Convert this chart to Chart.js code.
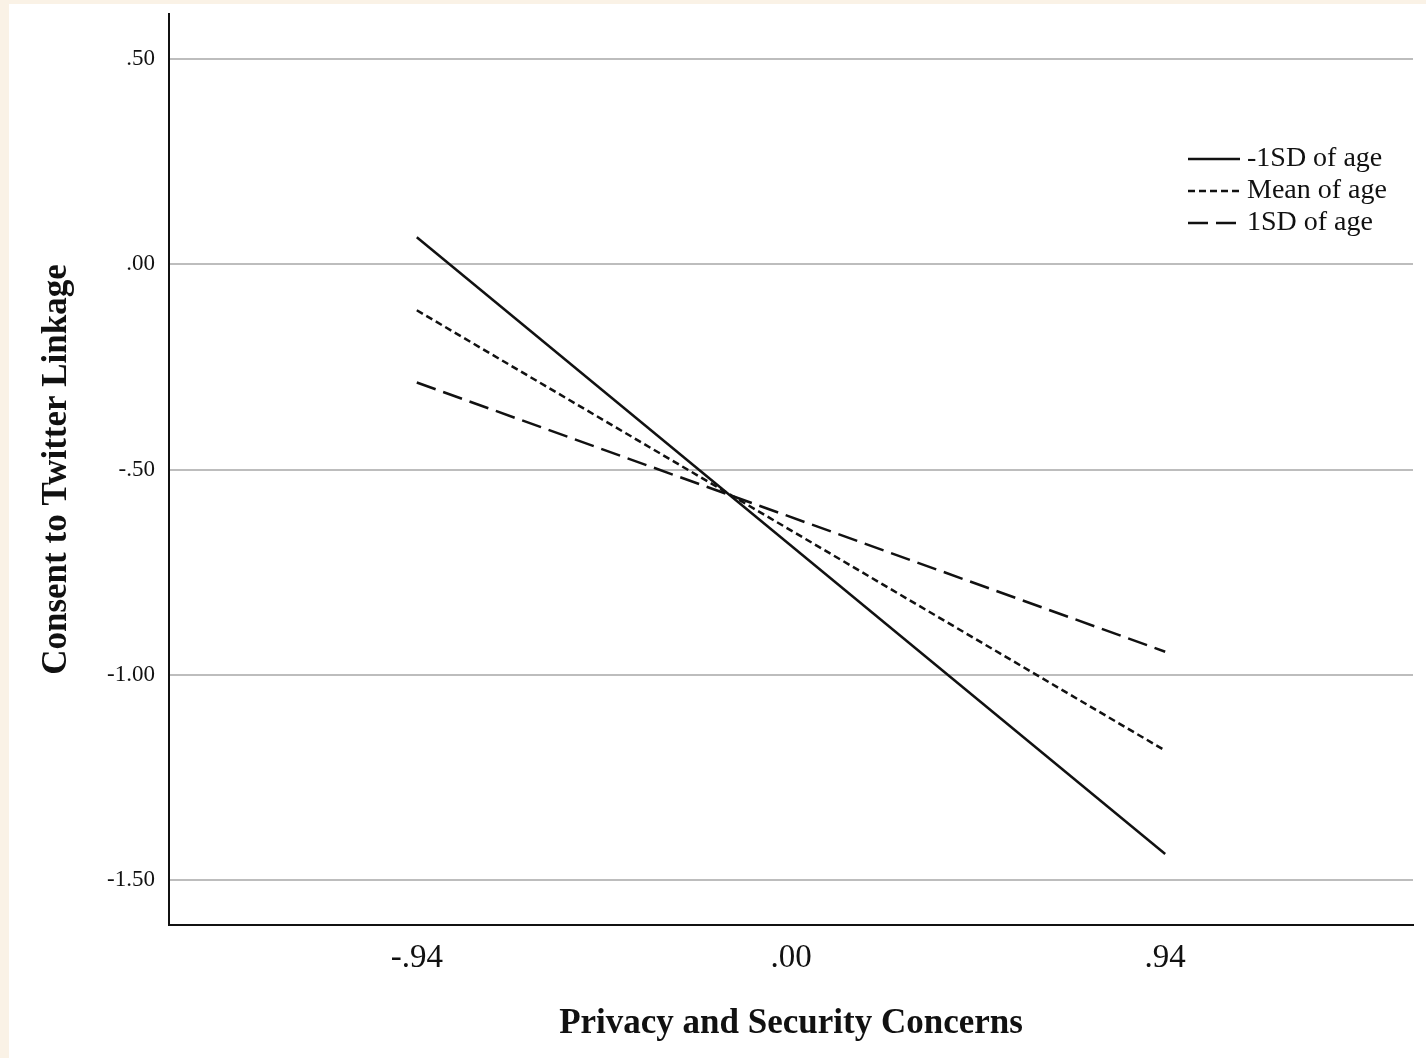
<!DOCTYPE html>
<html>
<head>
<meta charset="utf-8">
<script src="https://cdn.jsdelivr.net/npm/chart.js@4/dist/chart.umd.min.js"></script>
<style>
  html, body { margin: 0; padding: 0; background: #faf2e6; }
  #wrap { position: absolute; left: 9px; top: 4px; width: 1417px; height: 1054px; background: #ffffff; }
</style>
</head>
<body>
<div id="wrap"><canvas id="chart" width="1417" height="1054"></canvas></div>
<script>
// 조절변수(연령) 수준별 단순 기울기 데이터
const xTicks = [-0.94, 0, 0.94];
const yTicks = [-1.5, -1.0, -0.5, 0, 0.5];
const seriesLabels = ["-1SD of age", "Mean of age", "1SD of age"];
const lowAge = [0.066, -1.437];
const meanAge = [-0.112, -1.185];
const highAge = [-0.288, -0.944];

const SERIF = "'Liberation Serif', 'Times New Roman', serif";

// .50, -1.00 형식 (앞자리 0 제거)
function spssFormat(v) {
  let s = Math.abs(v).toFixed(2).replace(/^0/, "");
  return (v < 0 ? "-" : "") + s;
}

function toPoints(values) {
  return values.map((y, i) => ({ x: xTicks[i * 2], y: y }));
}

const dashes = [[], [7, 4], [20, 8]];

// 차트 영역 안쪽 오른쪽 위에 범례 그리기
const insideLegend = {
  id: "insideLegend",
  afterDraw(chart) {
    const ctx = chart.ctx;
    ctx.save();
    ctx.font = "28px " + SERIF;
    ctx.textBaseline = "middle";
    ctx.fillStyle = "#111";
    chart.data.datasets.forEach((ds, i) => {
      const y = 155 + i * 32;
      ctx.beginPath();
      ctx.setLineDash(ds.borderDash || []);
      ctx.lineWidth = 2.5;
      ctx.strokeStyle = "#111";
      ctx.moveTo(1179, y);
      ctx.lineTo(1231, y);
      ctx.stroke();
      ctx.setLineDash([]);
      ctx.fillText(ds.label, 1238, y);
    });
    ctx.restore();
  },
};

const datasets = [lowAge, meanAge, highAge].map((vals, i) => ({
  label: seriesLabels[i],
  data: toPoints(vals),
  borderColor: "#111",
  borderWidth: 2.5,
  borderDash: dashes[i],
  pointRadius: 0,
  showLine: true,
  fill: false,
}));

new Chart(document.getElementById("chart"), {
  type: "scatter",
  data: { datasets: datasets },
  options: {
    responsive: false,
    animation: false,
    layout: { padding: { top: 10, right: 13, left: 0, bottom: 0 } },
    scales: {
      x: {
        type: "linear",
        min: -1.5625,
        max: 1.5625,
        afterBuildTicks: (scale) => { scale.ticks = xTicks.map((v) => ({ value: v })); },
        afterFit: (scale) => { scale.height = 133; },
        ticks: {
          color: "#111",
          font: { family: SERIF, size: 33 },
          padding: 14,
          callback: (v) => spssFormat(v),
        },
        grid: { display: false, drawTicks: false },
        border: { display: true, color: "#111", width: 2 },
        title: {
          display: true,
          text: "Privacy and Security Concerns",
          color: "#111",
          font: { family: SERIF, size: 35, weight: "bold" },
          padding: { top: 0, bottom: 13 },
        },
      },
      y: {
        type: "linear",
        min: -1.61,
        max: 0.61,
        afterBuildTicks: (scale) => { scale.ticks = yTicks.map((v) => ({ value: v })); },
        afterFit: (scale) => {
          scale.width = 160;
          scale.paddingTop = 0;
          scale.paddingBottom = 0;
        },
        ticks: {
          color: "#111",
          font: { family: SERIF, size: 23 },
          padding: 14,
          callback: (v) => spssFormat(v),
        },
        grid: { color: "#bdbdbd", lineWidth: 2, drawTicks: false },
        border: { display: true, color: "#111", width: 2 },
        title: {
          display: true,
          text: "Consent to Twitter Linkage",
          color: "#111",
          font: { family: SERIF, size: 35, weight: "bold" },
          padding: { top: 27, bottom: 0 },
        },
      },
    },
    plugins: {
      legend: { display: false },
      tooltip: { enabled: false },
    },
  },
  plugins: [insideLegend],
});
</script>
</body>
</html>
